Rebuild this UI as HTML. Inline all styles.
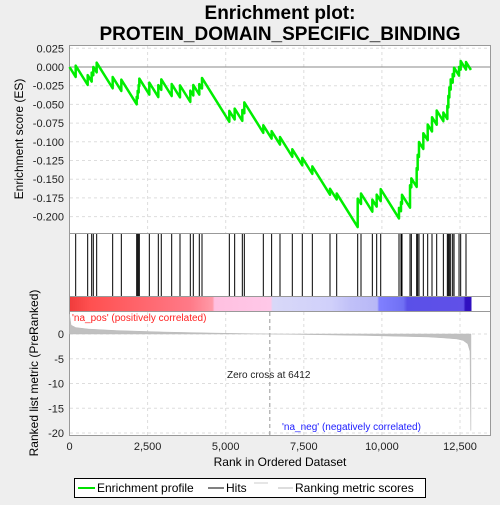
<!DOCTYPE html>
<html><head><meta charset="utf-8"><style>
body{margin:0;background:#eeeeee;font-family:"Liberation Sans",sans-serif;}
svg text{font-family:"Liberation Sans",sans-serif;}
</style></head><body>
<svg id="chart" width="500" height="500" xmlns="http://www.w3.org/2000/svg">
<rect x="0" y="0" width="500" height="500" fill="#eeeeee"/>
<text x="280" y="19" font-size="19" font-weight="bold" text-anchor="middle">Enrichment plot:</text>
<text x="280" y="40" font-size="19" font-weight="bold" text-anchor="middle">PROTEIN_DOMAIN_SPECIFIC_BINDING</text>
<rect x="69.5" y="45.5" width="421" height="188" fill="#fff" stroke="#999"/>
<rect x="69.5" y="233.5" width="421" height="63" fill="#fff" stroke="#999"/>
<rect x="69.5" y="296.5" width="421" height="15" fill="#fff" stroke="#999"/>
<rect x="69.5" y="311.5" width="421" height="124" fill="#fff" stroke="#999"/>
<defs><linearGradient id="cb" x1="0" x2="1" y1="0" y2="0">
<stop offset="0" stop-color="#f03c3c"/><stop offset="0.05" stop-color="#ff5050"/><stop offset="0.3" stop-color="#ff7a88"/><stop offset="0.355" stop-color="#ff9aa8"/><stop offset="0.36" stop-color="#ffc0e0"/><stop offset="0.5" stop-color="#ffc8e8"/><stop offset="0.505" stop-color="#d8d8f8"/><stop offset="0.65" stop-color="#d0d0fa"/><stop offset="0.7" stop-color="#c0c0f8"/><stop offset="0.765" stop-color="#b8b8f6"/><stop offset="0.77" stop-color="#8080ff"/><stop offset="0.83" stop-color="#7070f4"/><stop offset="0.84" stop-color="#5a50e8"/><stop offset="0.98" stop-color="#6050e8"/><stop offset="0.985" stop-color="#3010c0"/><stop offset="1" stop-color="#3010c0"/>
</linearGradient></defs>
<rect x="70" y="297" width="401.5" height="14" fill="url(#cb)"/>
<g id="grid"></g>
<g id="marks"></g>
<text x="72" y="321" font-size="10" fill="#ff2020">'na_pos' (positively correlated)</text>
<text x="282" y="430" font-size="10" fill="#2020ff">'na_neg' (negatively correlated)</text>
<text x="227" y="378" font-size="10" fill="#222">Zero cross at 6412</text>
<text x="280" y="466" font-size="12" text-anchor="middle">Rank in Ordered Dataset</text>
<text transform="translate(23,139) rotate(-90)" font-size="12" text-anchor="middle">Enrichment score (ES)</text>
<text transform="translate(38,373) rotate(-90)" font-size="12" text-anchor="middle">Ranked list metric (PreRanked)</text>
<g>
<rect x="74.5" y="478.5" width="351" height="19" fill="#fff" stroke="#000"/>
<line x1="78" y1="488" x2="95" y2="488" stroke="#00e000" stroke-width="2"/>
<text x="97" y="492" font-size="12">Enrichment profile</text>
<line x1="208" y1="488" x2="224" y2="488" stroke="#000"/>
<text x="226" y="492" font-size="12">Hits</text>
<line x1="254" y1="483" x2="268" y2="483" stroke="#ccc"/>
<line x1="278" y1="488" x2="293" y2="488" stroke="#bbb"/>
<text x="295" y="492" font-size="12">Ranking metric scores</text>
</g>
</svg>
<script>
const hitRanks=[198,582,710,762,870,1382,1659,2151,2182,2214,2235,2555,2843,2938,3271,3537,3867,3963,4155,4241,5116,5287,5532,5596,6204,6470,6738,7132,7452,7773,8339,8553,9225,9331,9694,9833,9962,10547,10611,10643,10900,10942,11113,11145,11187,11326,11466,11604,11754,11967,12095,12127,12159,12202,12266,12309,12469,12522,12692];
const hitJumps=[0.015,0.013,0.012,0.011,0.013,0.015,0.015,0.010,0.010,0.010,0.010,0.016,0.016,0.014,0.016,0.016,0.015,0.014,0.014,0.014,0.0145,0.0145,0.0145,0.0145,0.010,0.010,0.010,0.010,0.010,0.010,0.008,0.008,0.038,0.014,0.016,0.016,0.016,0.014,0.012,0.012,0.030,0.012,0.025,0.020,0.020,0.021,0.021,0.019,0.019,0.0115,0.0175,0.0155,0.0135,0.0135,0.0115,0.0115,0.0115,0.0115,0.010];
const totalGenes=12850;
const metricRanks=[0,50,200,600,1500,3000,4500,6412,8000,9500,10500,11500,12000,12400,12600,12750,12820,12845,12850];
const metricValues=[4,1.8,1.3,1.0,0.7,0.4,0.2,0,-0.15,-0.3,-0.45,-0.6,-0.8,-1.0,-1.3,-2.0,-3.5,-19.5,-19.5];
const esTicks=[0.025,0,-0.025,-0.05,-0.075,-0.1,-0.125,-0.15,-0.175,-0.2];
const esTickLabels=["0.025","0.000","-0.025","-0.050","-0.075","-0.100","-0.125","-0.150","-0.175","-0.200"];
const metricTicks=[0,-5,-10,-15,-20];
const xTicks=[0,2500,5000,7500,10000,12500];
const xTickLabels=["0","2,500","5,000","7,500","10,000","12,500"];
const zeroCross=6412;

const NS="http://www.w3.org/2000/svg";
const xs=r=>69.5+r*390.5/12500;
const ys=v=>67-v*748;
const ym=v=>334-v*4.95;
const grid=document.getElementById('grid'),marks=document.getElementById('marks'),svg=document.getElementById('chart');
function mk(tag,attrs,parent){const e=document.createElementNS(NS,tag);for(const k in attrs)e.setAttribute(k,attrs[k]);parent.appendChild(e);return e;}
function txt(x,y,s,anchor){const t=mk('text',{x:x,y:y,'font-size':11,'text-anchor':anchor,fill:'#222'},svg);t.textContent=s;return t;}
xTicks.forEach((t,i)=>{
 if(i>0){const g1=mk('line',{x1:xs(t),x2:xs(t),y1:46,y2:233,stroke:'#ddd','stroke-dasharray':'3,3'},grid);
 
 
 const g2=mk('line',{x1:xs(t),x2:xs(t),y1:312,y2:435,stroke:'#ddd','stroke-dasharray':'3,3'},grid);
 
 }
 const l=txt(xs(t),450,xTickLabels[i],'middle');
 
 
});
esTicks.forEach((t,i)=>{
 const g=mk('line',{x1:70,x2:490,y1:ys(t),y2:ys(t),stroke:t===0?'#888':'#ddd','stroke-dasharray':t===0?'':'3,3'},grid);
 
 
 const l=txt(64,ys(t)+4,esTickLabels[i],'end');
 
 
});
metricTicks.forEach(t=>{
 const g=mk('line',{x1:70,x2:490,y1:ym(t),y2:ym(t),stroke:'#ddd','stroke-dasharray':'3,3'},grid);
 
 
 const l=txt(64,ym(t)+4,String(t),'end');
 
 
});
const zc=mk('line',{x1:xs(zeroCross),x2:xs(zeroCross),y1:312,y2:435,stroke:'#999','stroke-dasharray':'4,3'},grid);


let d='M'+xs(0)+','+ym(0);
metricRanks.forEach((r,i)=>{d+=' L'+xs(r)+','+ym(metricValues[i]);});
d+=' L'+xs(metricRanks[metricRanks.length-1])+','+ym(0)+' Z';
const area=mk('path',{d:d,fill:'#c0c0c0',stroke:'#bbb','stroke-width':0.5},marks);


hitRanks.forEach(r=>{
 const h=mk('line',{x1:xs(r),x2:xs(r),y1:234,y2:296,stroke:'#000','stroke-width':1},marks);
 
 
});
const sumJ=hitJumps.reduce((a,b)=>a+b,0);
const miss=sumJ/(totalGenes-hitRanks.length);
let es=0,prev=0,pts=[[xs(0),ys(0)]];
hitRanks.forEach((r,i)=>{
 es-=(r-prev)*miss; pts.push([xs(r),ys(es)]);
 es+=hitJumps[i]; pts.push([xs(r),ys(es)]); prev=r;
});
es-=(totalGenes-prev)*miss; pts.push([xs(totalGenes),ys(es)]);
const line=mk('polyline',{points:pts.map(p=>p.join(',')).join(' '),fill:'none',stroke:'#00ee00','stroke-width':2.5,'stroke-linejoin':'round'},marks);


</script>
</body></html>
